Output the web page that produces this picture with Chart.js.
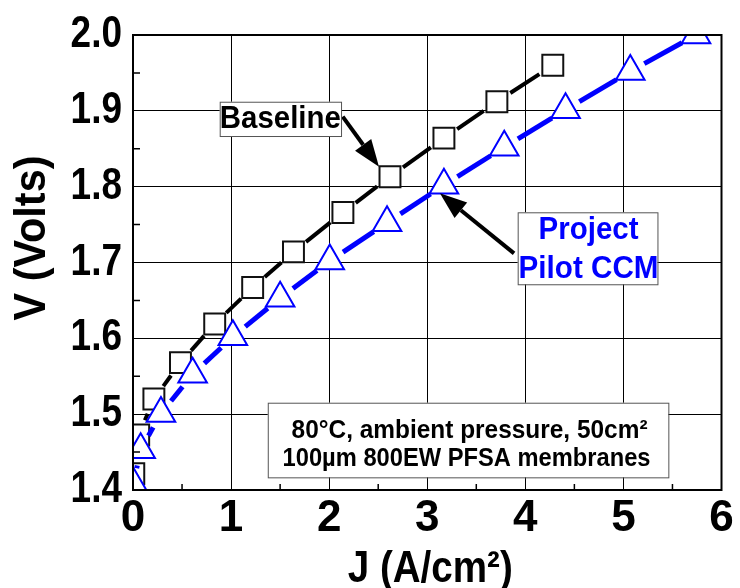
<!DOCTYPE html>
<html>
<head>
<meta charset="utf-8">
<script src="https://cdn.jsdelivr.net/npm/chart.js@4.4.1/dist/chart.umd.min.js"></script>
<style>
  html, body { margin: 0; padding: 0; background: #fff; }
  #wrap { width: 740px; height: 588px; }
</style>
</head>
<body>
<div id="wrap"><canvas id="chart"></canvas></div>
<script>
// current density J (A/cm2) and cell voltage V
const baselineJ = [0.008, 0.058, 0.213, 0.484, 0.833, 1.22, 1.636, 2.14, 2.62, 3.17, 3.71, 4.28];
const baselineV = [1.4215, 1.4725, 1.520, 1.568, 1.619, 1.667, 1.714, 1.766, 1.813, 1.864, 1.912, 1.960];

const pilotJ = [0.003, 0.078, 0.285, 0.608, 1.018, 1.50, 2.006, 2.59, 3.17, 3.785, 4.41, 5.07, 5.74];
const pilotV = [1.408, 1.453, 1.501, 1.5526, 1.602, 1.653, 1.702, 1.7525, 1.802, 1.852, 1.9015, 1.952, 2.0];

const xTickValues = [0, 1, 2, 3, 4, 5, 6];
const xTickLabels = ['0', '1', '2', '3', '4', '5', '6'];
const yTickValues = [1.4, 1.5, 1.6, 1.7, 1.8, 1.9, 2.0];
const yTickLabels = ['1.4', '1.5', '1.6', '1.7', '1.8', '1.9', '2.0'];

const BLUE = '#0000ff';
const GAP = 16; // line stops this far from each symbol centre
const toXY = (xs, ys) => xs.map((x, i) => ({ x: x, y: ys[i] }));

const bold = size => 'bold ' + size + 'px "Liberation Sans", Arial, sans-serif';

// leave a small gap around symbols, like the original plot
const segLen = c => Math.hypot(c.p1.x - c.p0.x, c.p1.y - c.p0.y);
const gappedSegment = {
    borderDash: c => [Math.max(segLen(c) - 2 * GAP, 0), 2 * GAP],
    borderDashOffset: c => segLen(c) - GAP
};

function drawArrow(ctx, x1, y1, x2, y2) {
    const ang = Math.atan2(y2 - y1, x2 - x1);
    const head = 27, half = 10;
    const bx = x2 - Math.cos(ang) * head, by = y2 - Math.sin(ang) * head;
    ctx.strokeStyle = '#000';
    ctx.lineWidth = 4;
    ctx.beginPath();
    ctx.moveTo(x1, y1);
    ctx.lineTo(bx, by);
    ctx.stroke();
    ctx.fillStyle = '#000';
    ctx.beginPath();
    ctx.moveTo(x2, y2);
    ctx.lineTo(bx + Math.sin(ang) * half, by - Math.cos(ang) * half);
    ctx.lineTo(bx - Math.sin(ang) * half, by + Math.cos(ang) * half);
    ctx.closePath();
    ctx.fill();
}

function drawBox(ctx, x1, y1, x2, y2) {
    ctx.fillStyle = '#fff';
    ctx.fillRect(x1, y1, x2 - x1, y2 - y1);
    ctx.strokeStyle = '#555';
    ctx.lineWidth = 1;
    ctx.strokeRect(x1 + 0.5, y1 + 0.5, x2 - x1, y2 - y1);
}

function squeezeText(ctx, text, x, y, font, width, color, align) {
    ctx.font = font;
    ctx.fillStyle = color || '#000';
    ctx.textAlign = align || 'center';
    ctx.textBaseline = 'alphabetic';
    ctx.fillText(text, x, y, width);
}

const decorations = {
    id: 'decorations',
    afterDatasetsDraw(chart) {
        const ctx = chart.ctx;
        const xs = chart.scales.x, ys = chart.scales.y;
        const a = chart.chartArea;
        const px = v => xs.getPixelForValue(v);
        const py = v => ys.getPixelForValue(v);
        ctx.save();

        // minor ticks, inside the frame
        ctx.strokeStyle = '#000';
        ctx.lineWidth = 1.5;
        ctx.beginPath();
        for (let v = 0.5; v < 6; v += 1) {
            ctx.moveTo(px(v), a.bottom);
            ctx.lineTo(px(v), a.bottom - 6);
        }
        for (let v = 1.45; v < 2.0; v += 0.1) {
            ctx.moveTo(a.left, py(v));
            ctx.lineTo(a.left + 7, py(v));
        }
        ctx.stroke();

        // frame
        ctx.lineWidth = 2;
        ctx.strokeRect(a.left, a.top, a.right - a.left, a.bottom - a.top);

        // arrows
        drawArrow(ctx, px(2.138), py(1.8923), px(2.508), py(1.8264));
        drawArrow(ctx, px(3.885), py(1.7121), px(3.129), py(1.7913));

        // Baseline label
        let l = px(0.884), t = py(1.912), r = px(2.121), b = py(1.8668);
        drawBox(ctx, l, t, r, b);
        squeezeText(ctx, 'Baseline', (l + r) / 2, t + 26.5, bold(31), 121);

        // Project Pilot CCM label
        l = px(3.922); t = py(1.7662); r = px(5.347); b = py(1.6713);
        drawBox(ctx, l, t, r, b);
        squeezeText(ctx, 'Project', (l + r) / 2 + 1, t + 27, bold(31), 100, BLUE);
        squeezeText(ctx, 'Pilot CCM', (l + r) / 2 + 1, t + 66, bold(31), 140, BLUE);

        // conditions
        l = px(1.374); t = py(1.5151); r = px(5.458); b = py(1.4167);
        drawBox(ctx, l, t, r, b);
        squeezeText(ctx, '80\u00B0C, ambient pressure, 50cm\u00B2', (l + r) / 2 + 1.5, t + 35.5, bold(26), 356);
        squeezeText(ctx, '100\u00B5m 800EW PFSA membranes', (l + r) / 2 - 1.5, t + 63.5, bold(26), 368);

        ctx.restore();
    },
    afterDraw(chart) {
        const ctx = chart.ctx;
        const a = chart.chartArea;
        const ys = chart.scales.y;
        ctx.save();

        // y tick labels, a little condensed as in the original
        ctx.font = bold(44);
        ys.ticks.forEach((t, i) => {
            const label = yTickLabels[i];
            const w = ctx.measureText(label).width * 0.84;
            squeezeText(ctx, label, a.left - 11, ys.getPixelForTick(i) + 12, bold(44), w, '#000', 'right');
        });

        squeezeText(ctx, 'J (A/cm\u00B2)', (a.left + a.right) / 2 + 3, 582, bold(44), 165);
        ctx.translate(45, 238);
        ctx.rotate(-Math.PI / 2);
        squeezeText(ctx, 'V (Volts)', 0, 0, bold(45), 165);
        ctx.restore();
    }
};

new Chart(document.getElementById('chart'), {
    type: 'scatter',
    data: {
        datasets: [
            {
                label: 'Project Pilot CCM',
                data: toXY(pilotJ, pilotV),
                showLine: true,
                borderColor: BLUE,
                borderWidth: 5,
                segment: gappedSegment,
                pointStyle: 'triangle',
                pointRadius: 16.5,
                pointBorderWidth: 2,
                pointBorderColor: BLUE,
                pointBackgroundColor: '#fff'
            },
            {
                label: 'Baseline',
                data: toXY(baselineJ, baselineV),
                showLine: true,
                borderColor: '#000',
                borderWidth: 4,
                segment: gappedSegment,
                pointStyle: 'rect',
                pointRadius: 14.8,
                pointBorderWidth: 2,
                pointBorderColor: '#111',
                pointBackgroundColor: '#fff'
            }
        ]
    },
    options: {
        responsive: true,
        maintainAspectRatio: false,
        animation: false,
        layout: { padding: { left: 0, right: 12, top: 35, bottom: 0 } },
        plugins: {
            legend: { display: false },
            tooltip: { enabled: false }
        },
        scales: {
            x: {
                type: 'linear',
                min: 0,
                max: 6,
                afterBuildTicks: s => { s.ticks = xTickValues.map(v => ({ value: v })); },
                afterFit: s => { s.height = 98; },
                ticks: {
                    callback: (v, i) => xTickLabels[i],
                    color: '#000',
                    font: { family: '"Liberation Sans", Arial', size: 44, weight: 'bold' },
                    padding: 2,
                    maxRotation: 0
                },
                grid: { color: '#000', lineWidth: 1, drawTicks: false },
                border: { color: '#000', width: 2 }
            },
            y: {
                min: 1.4,
                max: 2.0,
                afterBuildTicks: s => { s.ticks = yTickValues.map(v => ({ value: v })); },
                afterFit: s => { s.width = 133; },
                ticks: { display: false },
                grid: { color: '#000', lineWidth: 1, drawTicks: false },
                border: { color: '#000', width: 2 }
            }
        }
    },
    plugins: [decorations]
});
</script>
</body>
</html>
